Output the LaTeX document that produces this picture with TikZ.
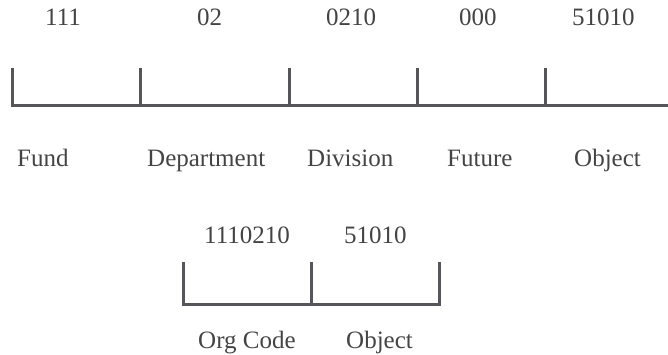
\documentclass[tikz,border=0pt]{standalone}
\usepackage{fontspec}
\setmainfont{Liberation Serif}
\definecolor{barcol}{HTML}{55555A}
\definecolor{txtcol}{HTML}{444444}
\begin{document}
\begin{tikzpicture}[x=1pt,y=-1pt,
  bar/.style={draw=barcol,line width=3pt,line join=miter,line cap=butt},
  lbl/.style={anchor=base west,inner sep=0pt,text=txtcol,font=\fontsize{25}{30}\selectfont}]
\useasboundingbox (0,0) rectangle (668,355);
% top bracket
\coordinate (t0) at (12,68);
\coordinate (t1) at (140,68);
\coordinate (t2) at (289,68);
\coordinate (t3) at (417,68);
\coordinate (t4) at (545,68);
\coordinate (tb0) at (12,106);
\coordinate (tb1) at (140,106);
\coordinate (tb2) at (289,106);
\coordinate (tb3) at (417,106);
\coordinate (tb4) at (545,106);
\coordinate (tend) at (668,106);
\draw[bar] (t0) -- (tb0) -- (tend);
\draw[bar] (t1) -- (tb1);
\draw[bar] (t2) -- (tb2);
\draw[bar] (t3) -- (tb3);
\draw[bar] (t4) -- (tb4);
% top values
\node[lbl] (v1) at (45,26) {111};
\node[lbl] (v2) at (197,26) {02};
\node[lbl] (v3) at (326,26) {0210};
\node[lbl] (v4) at (459,26) {000};
\node[lbl] (v5) at (572,26) {51010};
% names
\node[lbl] (n1) at (17,167) {Fund};
\node[lbl] (n2) at (147,167) {Department};
\node[lbl] (n3) at (307,167) {Division};
\node[lbl] (n4) at (447,167) {Future};
\node[lbl] (n5) at (574,167) {Object};
% bottom bracket
\coordinate (b0) at (183,262);
\coordinate (b1) at (311,262);
\coordinate (b2) at (439,262);
\coordinate (bb0) at (183,304);
\coordinate (bb1) at (311,304);
\coordinate (bb2) at (439,304);
\draw[bar] (b0) -- (bb0) -- (bb2) -- (b2);
\draw[bar] (b1) -- (bb1);
% bottom texts
\node[lbl] (w1) at (204,243) {1110210};
\node[lbl] (w2) at (344,243) {51010};
\node[lbl] (m1) at (198,348) {Org Code};
\node[lbl] (m2) at (346,348) {Object};
\end{tikzpicture}
\end{document}
